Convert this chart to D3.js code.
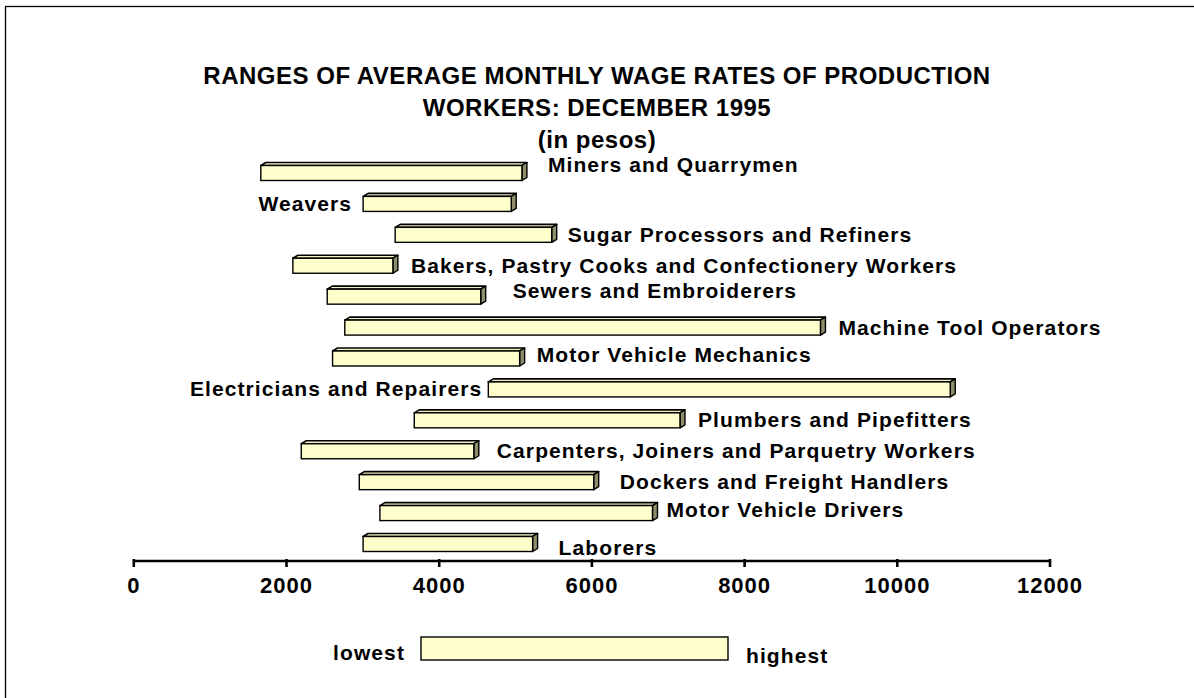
<!DOCTYPE html>
<html>
<head>
<meta charset="utf-8">
<script src="https://cdn.jsdelivr.net/npm/d3@7"></script>
<style>
  html, body { margin: 0; padding: 0; background: #fff; }
  svg { display: block; }
  text { font-family: "Liberation Sans", Arial, sans-serif; font-weight: bold; fill: #000; }
</style>
</head>
<body>
<script>
// ---- data ----
const categories = [
  "Miners and Quarrymen",
  "Weavers",
  "Sugar Processors and Refiners",
  "Bakers, Pastry Cooks and Confectionery Workers",
  "Sewers and Embroiderers",
  "Machine Tool Operators",
  "Motor Vehicle Mechanics",
  "Electricians and Repairers",
  "Plumbers and Pipefitters",
  "Carpenters, Joiners and Parquetry Workers",
  "Dockers and Freight Handlers",
  "Motor Vehicle Drivers",
  "Laborers"
];
const lowest  = [1670, 3010, 3430, 2090, 2540, 2770, 2610, 4650, 3680, 2200, 2960, 3230, 3010];
const highest = [5090, 4950, 5480, 3400, 4550, 9000, 5060, 10700, 7160, 4460, 6030, 6800, 5230];
const labelSide = ["right","left","right","right","right","right","right","left","right","right","right","right","right"];
const xTicks = [0, 2000, 4000, 6000, 8000, 10000, 12000];
const titleLines = ["RANGES OF AVERAGE MONTHLY WAGE RATES OF PRODUCTION", "WORKERS: DECEMBER 1995", "(in pesos)"];
const legendLabels = ["lowest", "highest"];

// ---- layout (not data) ----
const W = 1194, H = 698;
const labelNudge = { // small manual label placement tweaks [dx, dy]
  "Miners and Quarrymen": [8, -8],
  "Sugar Processors and Refiners": [-2, 0],
  "Sewers and Embroiderers": [14, -6],
  "Motor Vehicle Mechanics": [-1, -4],
  "Electricians and Repairers": [5, 0],
  "Carpenters, Joiners and Parquetry Workers": [5, 0],
  "Dockers and Freight Handlers": [8, 0],
  "Motor Vehicle Drivers": [-4, -3],
  "Laborers": [8, 4]
};

const svg = d3.select("body").append("svg").attr("width", W).attr("height", H);

// frame
svg.append("rect").attr("x", 5.5).attr("y", 6.5).attr("width", 1300).attr("height", 800)
  .attr("fill", "none").attr("stroke", "#000").attr("stroke-width", 1.3);

// title
svg.append("g").selectAll("text").data(titleLines).join("text")
  .attr("x", 597).attr("y", (d, i) => 84 + i * 32)
  .attr("text-anchor", "middle").attr("font-size", 24).style("letter-spacing", "0.5px")
  .text(d => d);

const x = d3.scaleLinear().domain([0, 12000]).range([133.3, 1049.5]);
const y = d3.scalePoint().domain(categories).range([173, 544]);

const data = categories.map((c, i) => ({ c, lo: lowest[i], hi: highest[i], side: labelSide[i] }));

const bh = 15, dx = 5, dy = 3;
const bars = svg.append("g");
const g = bars.selectAll("g").data(data).join("g");
// top face
g.append("path")
  .attr("d", d => {
    const x0 = x(d.lo), x1 = x(d.hi), t = y(d.c) - bh / 2;
    return `M${x0},${t}L${x0 + dx},${t - dy}L${x1 + dx},${t - dy}L${x1},${t}Z`;
  })
  .attr("fill", "#f2f2c4").attr("stroke", "#000").attr("stroke-width", 1.6).attr("stroke-linejoin", "round");
// side face
g.append("path")
  .attr("d", d => {
    const x1 = x(d.hi), t = y(d.c) - bh / 2, b = y(d.c) + bh / 2;
    return `M${x1},${t}L${x1 + dx},${t - dy}L${x1 + dx},${b - dy}L${x1},${b}Z`;
  })
  .attr("fill", "#8e8e6a").attr("stroke", "#000").attr("stroke-width", 1.4).attr("stroke-linejoin", "round");
// front face
g.append("rect")
  .attr("x", d => x(d.lo)).attr("y", d => y(d.c) - bh / 2)
  .attr("width", d => x(d.hi) - x(d.lo)).attr("height", bh)
  .attr("fill", "#ffffcc").attr("stroke", "#000").attr("stroke-width", 1.4);

// labels
g.append("text")
  .attr("x", d => {
    const n = labelNudge[d.c] || [0, 0];
    return (d.side === "right" ? x(d.hi) + dx + 13 : x(d.lo) - 11) + n[0];
  })
  .attr("y", d => y(d.c) + 7 + (labelNudge[d.c] || [0, 0])[1])
  .attr("text-anchor", d => d.side === "right" ? "start" : "end")
  .attr("font-size", 21).style("letter-spacing", "1.1px")
  .text(d => d.c);

// axis
const axis = d3.axisBottom(x).tickValues(xTicks).tickSize(6).tickPadding(10).tickFormat(d3.format("d"));
const ax = svg.append("g").attr("transform", "translate(0,561)").call(axis);
ax.select(".domain").attr("stroke", "#000").attr("stroke-width", 2.6).attr("d", `M${x(0)},0H${x(12000)}`);
ax.selectAll(".tick line").attr("stroke", "#000").attr("stroke-width", 2.6).attr("y1", -2);
ax.selectAll(".tick text").attr("font-size", 22).style("letter-spacing", "1px")
  .attr("font-family", "'Liberation Sans', Arial, sans-serif").attr("font-weight", "bold").attr("fill", "#000");

// legend
const lg = svg.append("g");
lg.append("rect").attr("x", 421).attr("y", 637).attr("width", 307).attr("height", 23)
  .attr("fill", "#ffffcc").attr("stroke", "#000").attr("stroke-width", 1.4);
lg.append("text").attr("x", 405).attr("y", 660).attr("text-anchor", "end")
  .attr("font-size", 21).style("letter-spacing", "1.1px").text(legendLabels[0]);
lg.append("text").attr("x", 746).attr("y", 663).attr("text-anchor", "start")
  .attr("font-size", 21).style("letter-spacing", "1.1px").text(legendLabels[1]);
</script>
</body>
</html>
